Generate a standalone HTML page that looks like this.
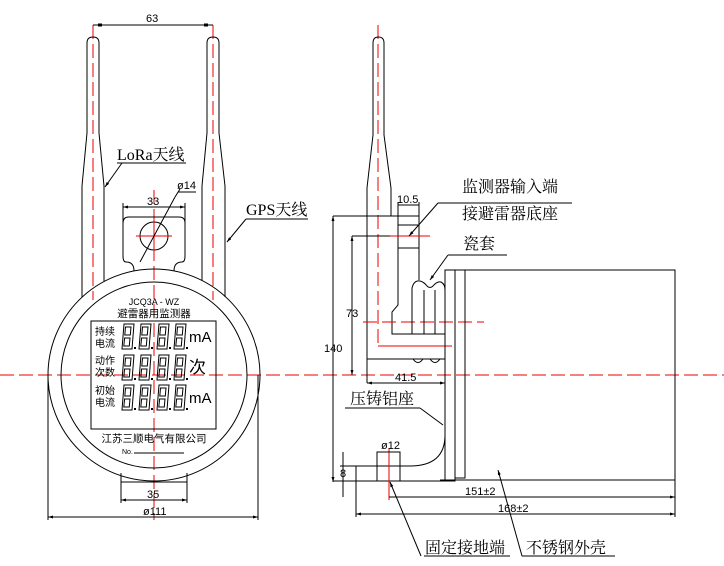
<!DOCTYPE html>
<html><head><meta charset="utf-8"><style>
html,body{margin:0;padding:0;background:#fff}
svg{display:block}
.k{stroke:#000;stroke-width:1;fill:none}
.r{stroke:#e00;stroke-width:1;fill:none;stroke-dasharray:14,5}
.rs{stroke:#e00;stroke-width:1;fill:none}
.cn{font-family:"Liberation Serif","Noto Serif CJK SC",serif;font-size:16px;fill:#000}
.d{font-family:"Liberation Sans",sans-serif;font-size:11px;fill:#000}
.s{font-family:"Liberation Sans","Noto Sans CJK SC",sans-serif;fill:#000}
</style></head><body>
<svg width="724" height="566" viewBox="0 0 724 566">
<defs>
<g id="dg">
<path class="k" d="M2,0 H12 L10,25 H0 Z M3.5,3 H9 L8.3,11 H2.8 Z M2.6,14 H8 L7.3,22 H1.8 Z" stroke-width="0.9"/>
<rect x="12" y="23" width="2" height="2" fill="#000"/>
</g>
<marker id="a" viewBox="0 0 10 6" refX="10" refY="3" markerWidth="8" markerHeight="3" orient="auto-start-reverse" markerUnits="userSpaceOnUse"><path d="M0,0 L10,3 L0,6 Z" fill="#000"/></marker>
</defs>
<!-- centerlines -->
<line class="r" x1="0" y1="375" x2="724" y2="375"/>
<line class="r" x1="154" y1="190" x2="154" y2="520"/>
<line class="r" x1="93" y1="25" x2="93" y2="300"/>
<line class="r" x1="213" y1="25" x2="213" y2="300"/>
<!-- dim 63 -->
<line class="k" x1="93" y1="25" x2="213" y2="25"/>
<rect x="98" y="23.5" width="4" height="3" fill="#000"/><rect x="204" y="23.5" width="4" height="3" fill="#000"/>
<text class="d" x="146" y="22">63</text>
<!-- antennas -->
<path class="k" d="M82,297 L82,186 L87,133 L87,43 Q87,37 93,37 Q99,37 99,43 L99,133 L104,186 L104,281"/>
<path class="k" d="M202,281 L202,186 L207,133 L207,43 Q207,37 213,37 Q219,37 219,43 L219,133 L225,186 L225,297"/>
<!-- tab -->
<path class="k" d="M134,271 Q134,262 126,262 Q123,262 123,256 L123,223 Q123,217 129,217 L179,217 Q185,217 185,223 L185,256 Q185,262 182,262 Q174,262 174,271"/>
<line class="k" x1="123" y1="207" x2="185" y2="207" marker-start="url(#a)" marker-end="url(#a)"/><line class="k" x1="123" y1="203" x2="123" y2="222"/><line class="k" x1="185" y1="203" x2="185" y2="222"/>
<text class="d" x="147" y="205">33</text>
<circle class="k" cx="154" cy="236" r="14"/>
<line class="rs" x1="136" y1="236" x2="172" y2="236"/>
<line class="rs" x1="154" y1="220" x2="154" y2="252"/>
<line class="k" x1="140" y1="262" x2="175" y2="197"/><line class="k" x1="175" y1="197" x2="180" y2="189"/>
<line class="k" x1="178" y1="192" x2="196" y2="192"/>
<text class="d" x="177" y="189">ø14</text>
<!-- circles -->
<circle class="k" cx="154" cy="375" r="106"/>
<circle class="k" cx="154" cy="375" r="93"/>
<!-- bottom tab -->
<path class="k" d="M121,473 L121,482 L187,482 L187,473"/>
<line class="k" x1="121" y1="482" x2="121" y2="503"/><line class="k" x1="187" y1="482" x2="187" y2="503"/>
<line class="k" x1="121" y1="500" x2="187" y2="500" marker-start="url(#a)" marker-end="url(#a)"/>
<text class="d" x="147" y="498">35</text>
<line class="k" x1="48" y1="375" x2="48" y2="520"/><line class="k" x1="258" y1="375" x2="258" y2="520"/>
<line class="k" x1="48" y1="517" x2="258" y2="517" marker-start="url(#a)" marker-end="url(#a)"/>
<text class="d" x="143" y="515">ø111</text>
<!-- face text -->
<text class="s" x="154" y="305" font-size="9" text-anchor="middle">JCQ3A - WZ</text>
<text class="s" x="154" y="317" font-size="10.5" text-anchor="middle">避雷器用监测器</text>
<rect class="k" x="91" y="321" width="125" height="108"/>
<g class="s" font-size="10">
<text x="95" y="335">持续</text><text x="95" y="347">电流</text>
<text x="95" y="364">动作</text><text x="95" y="376">次数</text>
<text x="95" y="394">初始</text><text x="95" y="406">电流</text>
</g>
<g>
<use href="#dg" x="122" y="324"/><use href="#dg" x="139" y="324"/><use href="#dg" x="157" y="324"/><use href="#dg" x="174" y="324"/>
<use href="#dg" x="122" y="355"/><use href="#dg" x="139" y="355"/><use href="#dg" x="157" y="355"/><use href="#dg" x="174" y="355"/>
<use href="#dg" x="122" y="385"/><use href="#dg" x="139" y="385"/><use href="#dg" x="157" y="385"/><use href="#dg" x="174" y="385"/>
</g>
<text class="s" x="189" y="342" font-size="15">mA</text>
<text class="s" x="189" y="373" font-size="17" fill="#336">次</text>
<text class="s" x="189" y="403" font-size="15">mA</text>
<text class="s" x="154" y="442" font-size="10.5" text-anchor="middle">江苏三顺电气有限公司</text>
<text class="s" x="122" y="454" font-size="7">No.</text>
<line class="k" x1="134" y1="453" x2="184" y2="453"/>
<!-- labels left -->
<text class="cn" x="117" y="160">LoRa天线</text>
<line class="k" x1="117" y1="163" x2="186" y2="163"/><line class="k" x1="122" y1="163" x2="105" y2="187" marker-end="url(#a)"/>
<text class="cn" x="246" y="215">GPS天线</text>
<line class="k" x1="246" y1="219" x2="308" y2="219"/><line class="k" x1="246" y1="219" x2="227" y2="242" marker-end="url(#a)"/>

<!-- RIGHT VIEW -->
<line class="r" x1="378" y1="25" x2="378" y2="346"/>
<line class="rs" x1="378" y1="346" x2="452" y2="346"/>
<path class="k" d="M367,383 L367,188 L373,135 L373,43 Q373,37 378.5,37 Q384,37 384,43 L384,135 L391,188 L391,216"/>
<path class="k" d="M398,248 L398,305 L392,312 L392,334 L445,334"/>
<!-- input rect -->
<path class="k" d="M398,216 L398,248 M419,216 L419,280 M398,225 H419 M398,248 H419"/>
<line class="k" x1="398" y1="205" x2="419" y2="205"/><line class="k" x1="398" y1="202" x2="398" y2="216"/><line class="k" x1="419" y1="202" x2="419" y2="216"/>
<text class="d" x="397" y="203">10.5</text>
<line class="k" x1="333" y1="216" x2="419" y2="216"/>
<line class="k" x1="333" y1="216" x2="333" y2="482" marker-start="url(#a)" marker-end="url(#a)"/>
<text class="d" x="324" y="352">140</text>
<line class="k" x1="352" y1="236" x2="398" y2="236"/>
<line class="k" x1="352" y1="236" x2="352" y2="375" marker-start="url(#a)" marker-end="url(#a)"/>
<text class="d" x="346" y="317">73</text>
<line class="rs" x1="390" y1="236" x2="430" y2="236"/>
<line class="r" x1="363" y1="322" x2="484" y2="322"/>
<!-- bushing -->
<path class="k" d="M412,334 L412,288 Q414,280 420,281 Q424,282 427,286 Q430,289 433,286 Q437,281 441,282 Q445,284 445,290 L445,334 M424,290 V334 M435,290 V334"/>
<!-- base lines -->
<line class="k" x1="367" y1="359" x2="445" y2="359"/>
<path class="k" d="M413,359 Q418,366 423,359 M430,359 Q435,366 440,359"/>
<line class="k" x1="367" y1="383" x2="445" y2="383" marker-start="url(#a)" marker-end="url(#a)"/>
<text class="d" x="395" y="381">41.5</text>
<!-- plates & housing -->
<rect class="k" x="445" y="270" width="10" height="211"/>
<rect class="k" x="455" y="270" width="10" height="208"/>
<path class="k" d="M465,270 H675 V480 H440"/>
<!-- base curve -->
<path class="k" d="M445,435 Q445,466 410,466 L356,466"/>
<line class="k" x1="333" y1="481" x2="455" y2="481"/>
<line class="k" x1="356" y1="466" x2="356" y2="517"/>
<rect class="k" x="377" y="452" width="23" height="29"/>
<line class="rs" x1="389" y1="448" x2="389" y2="500"/>
<line class="k" x1="377" y1="452" x2="400" y2="452"/>
<text class="d" x="381" y="449">ø12</text>
<line class="k" x1="343" y1="452" x2="343" y2="497"/><line class="k" x1="340" y1="466" x2="356" y2="466"/>
<text class="d" x="340" y="477">8</text>
<line class="k" x1="389" y1="497" x2="675" y2="497" marker-end="url(#a)"/>
<text class="d" x="465" y="495">151±2</text>
<line class="k" x1="356" y1="514" x2="675" y2="514" marker-start="url(#a)" marker-end="url(#a)"/>
<line class="k" x1="675" y1="480" x2="675" y2="517"/>
<text class="d" x="498" y="512">168±2</text>
<!-- right labels -->
<text class="cn" x="462" y="192">监测器输入端</text>
<line class="k" x1="438" y1="203" x2="572" y2="203"/><line class="k" x1="438" y1="203" x2="409" y2="236" marker-end="url(#a)"/>
<text class="cn" x="462" y="219">接避雷器底座</text>
<text class="cn" x="463" y="249">瓷套</text>
<line class="k" x1="448" y1="255" x2="507" y2="255"/><line class="k" x1="448" y1="255" x2="430" y2="280" marker-end="url(#a)"/>
<text class="cn" x="350" y="404">压铸铝座</text>
<line class="k" x1="345" y1="408" x2="420" y2="408"/><line class="k" x1="420" y1="408" x2="443" y2="425"/>
<text class="cn" x="425" y="553">固定接地端</text>
<line class="k" x1="424" y1="556" x2="510" y2="556"/><line class="k" x1="421" y1="556" x2="390" y2="482" marker-end="url(#a)"/>
<text class="cn" x="526" y="553">不锈钢外壳</text>
<line class="k" x1="522" y1="556" x2="615" y2="556"/><line class="k" x1="522" y1="556" x2="498" y2="470" marker-end="url(#a)"/>
</svg>
</body></html>
